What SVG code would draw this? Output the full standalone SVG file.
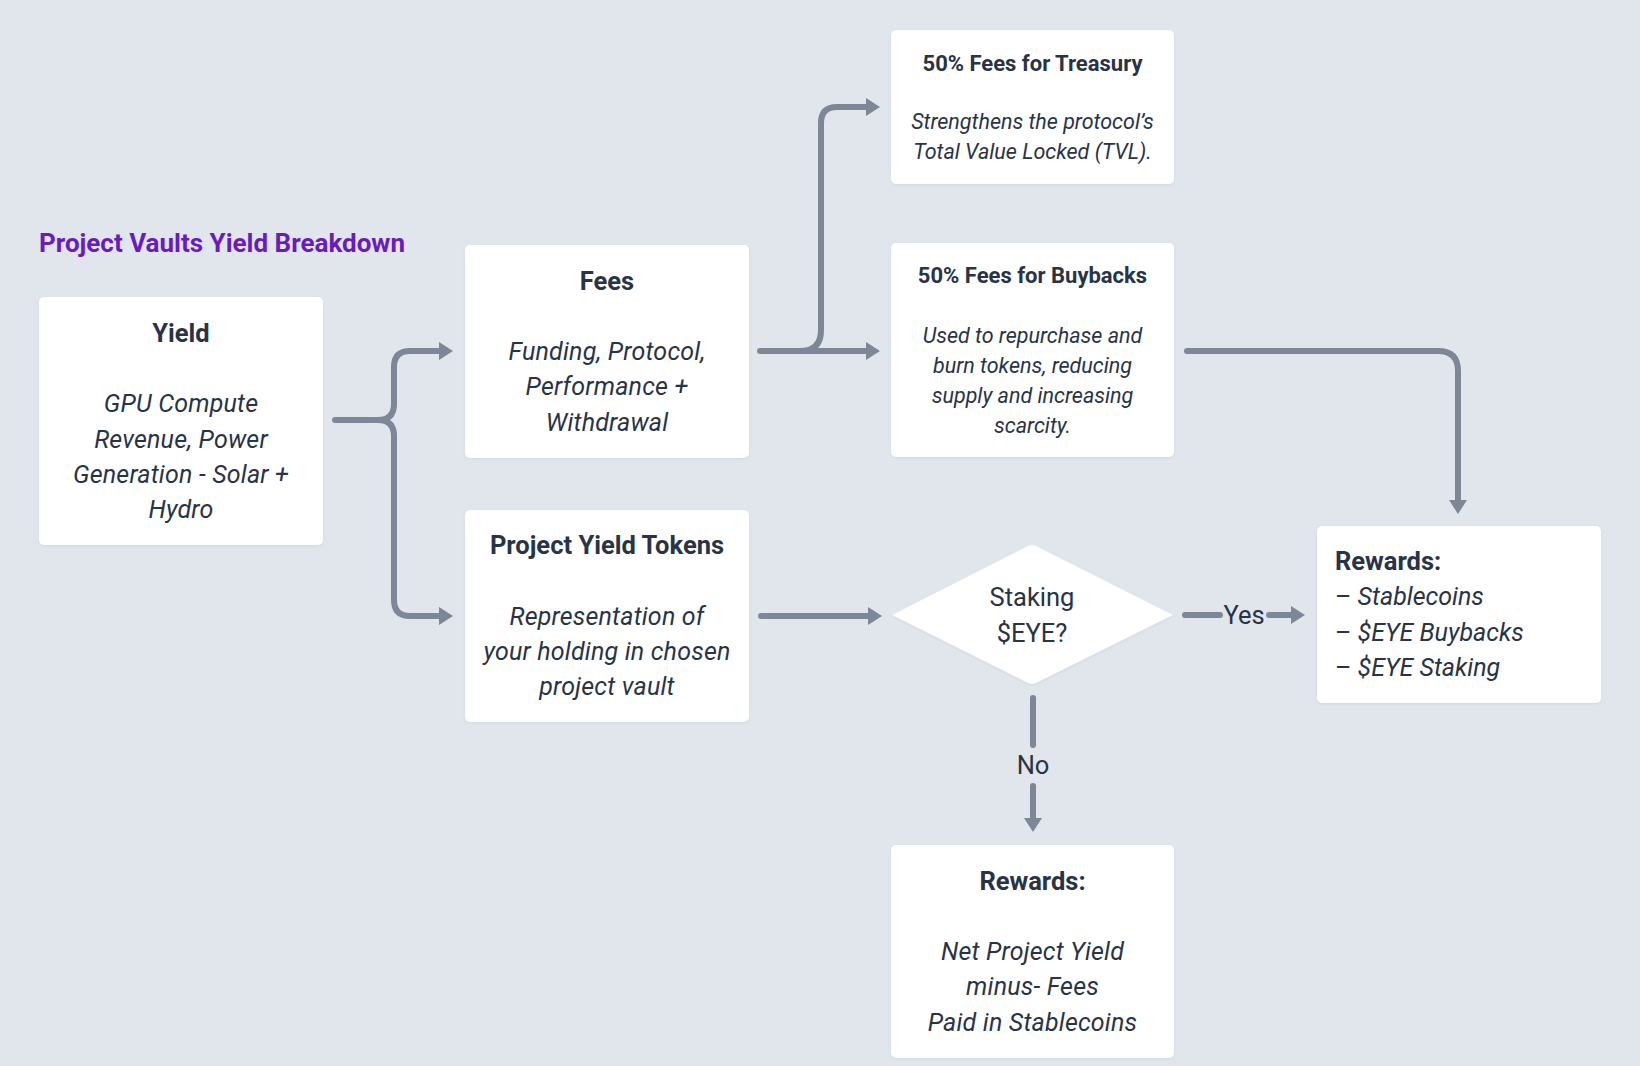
<svg xmlns="http://www.w3.org/2000/svg" width="1640" height="1066" viewBox="0 0 1640 1066">
<defs>
<style>
.bg{fill:#E1E6ED}
.box{fill:#FFFFFF}
.t{font-family:Roboto,"Noto Sans",sans-serif;fill:#283445}
.h{font-weight:700;font-size:25.5px;text-anchor:middle}
.b{font-style:italic;font-size:25px;text-anchor:middle;letter-spacing:0.2px}
.hs{font-weight:700;font-size:22px;text-anchor:middle}
.bs{font-style:italic;font-size:21.5px;text-anchor:middle}
.lbl{font-size:25.5px;text-anchor:middle}
.c{fill:none;stroke:#7D8796;stroke-width:6;stroke-linecap:round;stroke-linejoin:round}
</style>
<marker id="ah" markerUnits="userSpaceOnUse" markerWidth="16" markerHeight="20" refX="1" refY="9" orient="auto">
<path d="M0,0 L14,9 L0,18 Z" fill="#7D8796"/>
</marker>
<filter id="sh" x="-10%" y="-10%" width="120%" height="120%">
<feDropShadow dx="0" dy="1" stdDeviation="1.5" flood-color="#8090A0" flood-opacity="0.18"/>
</filter>
</defs>
<rect class="bg" x="0" y="0" width="1640" height="1066"/>

<text class="t" x="39" y="252" font-weight="700" font-size="26" style="fill:#6A1BBE">Project Vaults Yield Breakdown</text>

<g id="connectors">
<path class="c" d="M335,420 H378 Q394,420 394,404 V367 Q394,351 410,351 H440" marker-end="url(#ah)"/>
<path class="c" d="M378,420 Q394,420 394,436 V600 Q394,616 410,616 H440" marker-end="url(#ah)"/>
<path class="c" d="M760,351 H867" marker-end="url(#ah)"/>
<path class="c" d="M800,351 Q821,351 821,330 V123 Q821,107 837,107 H867" marker-end="url(#ah)"/>
<path class="c" d="M1187,351 H1438 Q1458,351 1458,371 V501" marker-end="url(#ah)"/>
<path class="c" d="M761,616 H869" marker-end="url(#ah)"/>
<path class="c" d="M1185,615 H1220"/>
<path class="c" d="M1269,615 H1292" marker-end="url(#ah)"/>
<text class="t lbl" x="1244" y="624">Yes</text>
<path class="c" d="M1033,698 V745"/>
<text class="t lbl" x="1033" y="774">No</text>
<path class="c" d="M1033,786 V819" marker-end="url(#ah)"/>
</g>

<g id="yield">
<rect class="box" x="39" y="297" width="284" height="248" rx="5" filter="url(#sh)"/>
<text class="t h" x="181" y="342">Yield</text>
<text class="t b" x="181" y="412">GPU Compute</text>
<text class="t b" x="181" y="447.5">Revenue, Power</text>
<text class="t b" x="181" y="483">Generation - Solar +</text>
<text class="t b" x="181" y="518">Hydro</text>
</g>

<g id="fees">
<rect class="box" x="465" y="245" width="284" height="213" rx="5" filter="url(#sh)"/>
<text class="t h" x="607" y="290">Fees</text>
<text class="t b" x="607" y="360">Funding, Protocol,</text>
<text class="t b" x="607" y="395">Performance +</text>
<text class="t b" x="607" y="431">Withdrawal</text>
</g>

<g id="pyt">
<rect class="box" x="465" y="510" width="284" height="212" rx="5" filter="url(#sh)"/>
<text class="t h" x="607" y="554">Project Yield Tokens</text>
<text class="t b" x="607" y="625">Representation of</text>
<text class="t b" x="607" y="660">your holding in chosen</text>
<text class="t b" x="607" y="695">project vault</text>
</g>

<g id="treasury">
<rect class="box" x="891" y="30" width="283" height="154" rx="5" filter="url(#sh)"/>
<text class="t hs" x="1032.5" y="71">50% Fees for Treasury</text>
<text class="t bs" x="1032.5" y="129">Strengthens the protocol’s</text>
<text class="t bs" x="1032.5" y="159">Total Value Locked (TVL).</text>
</g>

<g id="buybacks">
<rect class="box" x="891" y="243" width="283" height="214" rx="5" filter="url(#sh)"/>
<text class="t hs" x="1032.5" y="283">50% Fees for Buybacks</text>
<text class="t bs" x="1032.5" y="343">Used to repurchase and</text>
<text class="t bs" x="1032.5" y="373">burn tokens, reducing</text>
<text class="t bs" x="1032.5" y="403">supply and increasing</text>
<text class="t bs" x="1032.5" y="433">scarcity.</text>
</g>

<g id="staking">
<path class="box" d="M892,615 L1028,546 Q1032,544 1036,546 L1173,615 L1036,683 Q1032,685 1028,683 Z" filter="url(#sh)"/>
<text class="t lbl" x="1032" y="606">Staking</text>
<text class="t lbl" x="1032" y="642">$EYE?</text>
</g>

<g id="rewards-yes">
<rect class="box" x="1317" y="526" width="284" height="177" rx="5" filter="url(#sh)"/>
<text class="t" x="1335" y="570" font-weight="700" font-size="25.5">Rewards:</text>
<text class="t" x="1335" y="605" font-size="25"><tspan>– </tspan><tspan font-style="italic">Stablecoins</tspan></text>
<text class="t" x="1335" y="641" font-size="25"><tspan>– </tspan><tspan font-style="italic">$EYE Buybacks</tspan></text>
<text class="t" x="1335" y="676" font-size="25"><tspan>– </tspan><tspan font-style="italic">$EYE Staking</tspan></text>
</g>

<g id="rewards-no">
<rect class="box" x="891" y="845" width="283" height="213" rx="5" filter="url(#sh)"/>
<text class="t h" x="1032.5" y="890">Rewards:</text>
<text class="t b" x="1032.5" y="960">Net Project Yield</text>
<text class="t b" x="1032.5" y="995">minus- Fees</text>
<text class="t b" x="1032.5" y="1031">Paid in Stablecoins</text>
</g>
</svg>
